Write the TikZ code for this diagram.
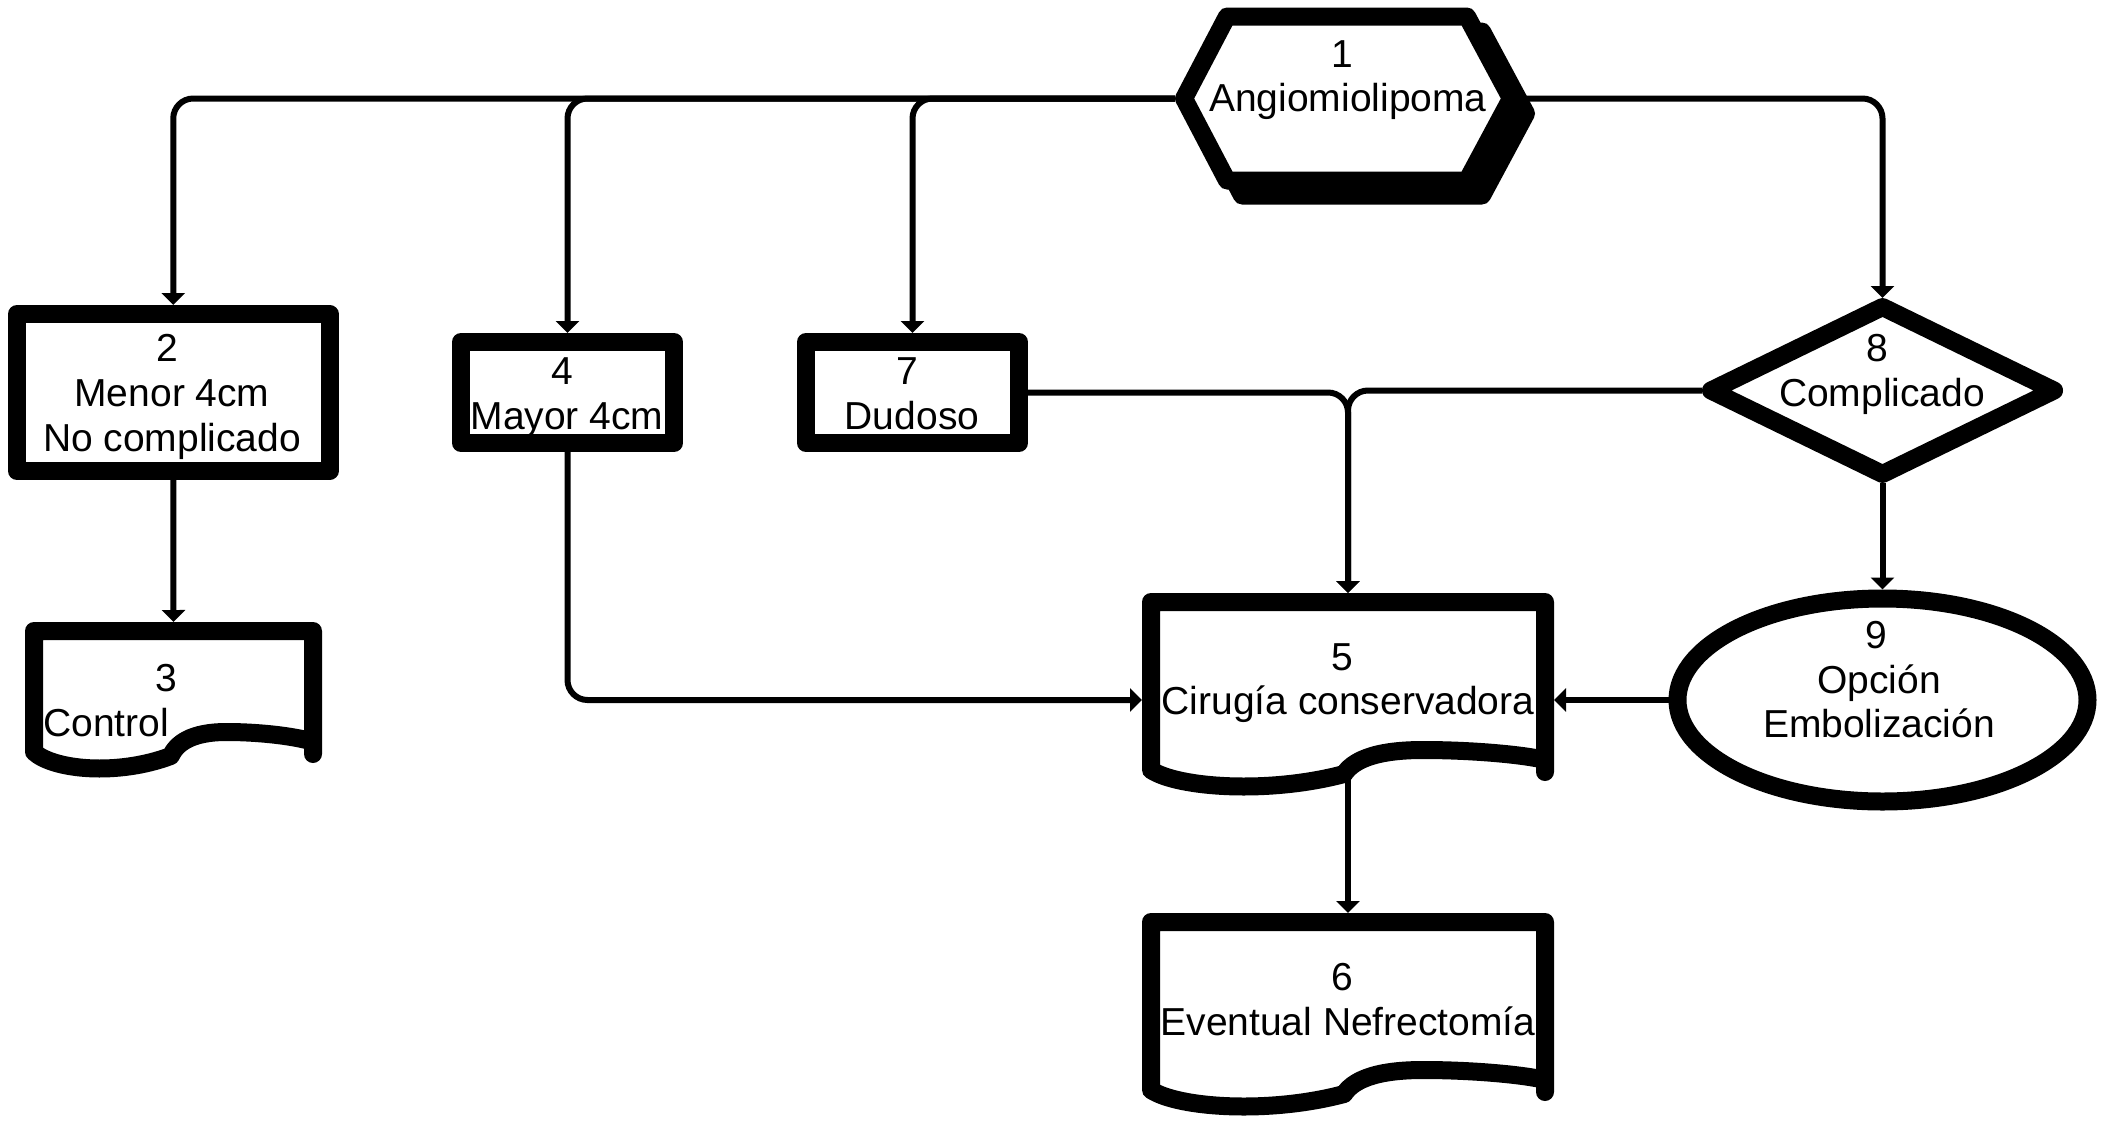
\documentclass[tikz,border=0pt]{standalone}
\usepackage{fontspec}
\setmainfont{Liberation Sans}
\usetikzlibrary{arrows.meta,shapes.geometric}

\tikzset{
  shapeline/.style={line width=18pt, line join=round, line cap=round, draw=black},
  box/.style={shapeline, fill=white, rectangle, inner sep=0pt, outer sep=9pt},
  anchorbox/.style={rectangle, inner sep=0pt, outer sep=9pt, draw=none},
  conn/.style={line width=6pt, rounded corners=20pt, -{Triangle[width=23pt,length=12pt]}},
  txt/.style={font=\fontsize{39}{44}\selectfont, inner sep=0pt, anchor=base},
}

% document shape: #1=L, #2=T, #3=R, #4=B (centre line of the stroke)
\newcommand{\mydocshape}[4]{%
  \filldraw[shapeline, fill=white]
    ({#3},{#4+2}) -- ({#3},{#2}) -- ({#1},{#2}) -- ({#1},{#4})
    .. controls ({#1+0.07*(#3-#1)},{#4+18}) and ({#1+0.30*(#3-#1)},{#4+24}) .. ({#1+0.49*(#3-#1)},{#4+4})
    .. controls ({#1+0.51*(#3-#1)},{#4-8}) and ({#1+0.56*(#3-#1)},{#4-20}) .. ({#1+0.69*(#3-#1)},{#4-20})
    .. controls ({#1+0.82*(#3-#1)},{#4-20}) and ({#1+0.95*(#3-#1)},{#4-15}) .. ({#3},{#4-10});
}

\begin{document}
\begin{tikzpicture}[x=1pt, y=-1pt]
  \fill[white] (0,0) rectangle (2107,1125);
  \useasboundingbox (0,0) rectangle (2107,1125);

  % shape nodes
  \node[anchorbox, minimum width=327, minimum height=164] (n1) at (1347.5,98.5) {};
  \node[box, minimum width=312.5, minimum height=157] (n2) at (173.25,392.5) {};
  \node[anchorbox, minimum width=279, minimum height=121] (n3) at (173.5,691.5) {};
  \node[box, minimum width=213, minimum height=101] (n4) at (567.5,392.5) {};
  \node[anchorbox, minimum width=394, minimum height=196] (n5) at (1348,700) {};
  \node[anchorbox, minimum width=394, minimum height=196] (n6) at (1348,1020) {};
  \node[box, minimum width=213, minimum height=101] (n7) at (912.5,392.5) {};
  \node[anchorbox, minimum width=343, minimum height=167] (n8) at (1882.5,390.5) {};
  \node[shapeline, fill=white, ellipse, inner sep=0pt, outer sep=9pt,
        minimum width=410, minimum height=203] (n9) at (1882.5,700) {};

  % connectors
  \draw[conn] (n1.west) -| (n2.north);
  \draw[conn] (n1.west) -| (n4.north);
  \draw[conn] (n1.west) -| (n7.north);
  \draw[conn] (n1.east) -| (n8.north);
  \draw[conn] (n2.south) -- (n3.north);
  \draw[conn] (n4.south) |- (n5.west);
  \draw[conn] (n7.east) -| (n5.north);
  \draw[conn] (n8.west) -| (n5.north);
  \draw[conn] (n8.south) -- (n9.north);
  \draw[conn] (n9.west) -- (n5.east);
  \draw[conn] (n5.center) -- (n6.north);

  % hexagon with shadow
  \filldraw[shapeline, fill=black, shift={(15,15)}]
    (1184,98.5) -- (1227,16.5) -- (1467,16.5) -- (1511,98.5) -- (1467,180.5) -- (1227,180.5) -- cycle;
  \filldraw[shapeline, fill=white]
    (1184,98.5) -- (1227,16.5) -- (1467,16.5) -- (1511,98.5) -- (1467,180.5) -- (1227,180.5) -- cycle;

  % diamond
  \filldraw[shapeline, fill=white]
    (1882.5,307) -- (2054,390.5) -- (1882.5,474) -- (1711,390.5) -- cycle;

  % document shapes
  \mydocshape{34}{631}{313}{752}
  \mydocshape{1151}{602}{1545}{770}
  \mydocshape{1151}{922}{1545}{1090}

  % texts
  \node[txt] (t1a) at (1342,67) {1};
  \node[txt] (t1b) at (1348,111) {Angiomiolipoma};
  \node[txt] (t2a) at (167,361) {2};
  \node[txt] (t2b) at (172,406) {Menor 4cm};
  \node[txt] (t2c) at (172,451) {No complicado};
  \node[txt] (t3a) at (166,691) {3};
  \node[txt, anchor=base west] (t3b) at (43,736) {Control};
  \node[txt] (t4a) at (562,384) {4};
  \node[txt] (t4b) at (567,429) {Mayor 4cm};
  \node[txt] (t7a) at (907,384) {7};
  \node[txt] (t7b) at (912,429) {Dudoso};
  \node[txt] (t5a) at (1342,670) {5};
  \node[txt] (t5b) at (1348,714) {Cirugía conservadora};
  \node[txt] (t6a) at (1342,990) {6};
  \node[txt] (t6b) at (1348,1035) {Eventual Nefrectomía};
  \node[txt] (t8a) at (1877,361) {8};
  \node[txt] (t8b) at (1882,406) {Complicado};
  \node[txt] (t9a) at (1876,648) {9};
  \node[txt] (t9b) at (1879,693) {Opción};
  \node[txt] (t9c) at (1879,737) {Embolización};
\end{tikzpicture}
\end{document}
